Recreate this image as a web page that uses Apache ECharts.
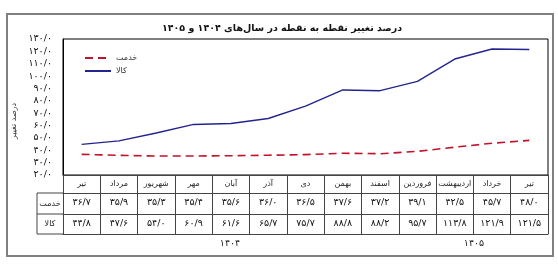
<!DOCTYPE html>
<html>
<head>
<meta charset="utf-8">
<script src="https://cdn.jsdelivr.net/npm/echarts@6/dist/echarts.min.js"></script>
<style>
  html, body { margin: 0; padding: 0; background: #fff; }
  #chart { width: 558px; height: 270px; }
</style>
</head>
<body>
<div id="chart"></div>
<script>
// داده‌ها
var months = ['تیر', 'مرداد', 'شهریور', 'مهر', 'آبان', 'آذر', 'دی', 'بهمن', 'اسفند', 'فروردین', 'اردیبهشت', 'خرداد', 'تیر'];
var services = [36.7, 35.9, 35.3, 35.4, 35.6, 36.0, 36.5, 37.6, 37.2, 39.1, 42.5, 45.7, 48.0];
var goods = [44.8, 47.6, 54.0, 60.9, 61.6, 65.7, 75.7, 88.8, 88.2, 95.7, 113.8, 121.9, 121.5];
var yearLabels = ['۱۴۰۴', '۱۴۰۵'];

var FONT = '"DejaVu Sans", sans-serif';

function fa(s) {
  return String(s).replace(/\d/g, function (d) { return '۰۱۲۳۴۵۶۷۸۹'[d]; });
}
function num(v) {
  return fa(v.toFixed(1).replace('.', '/'));
}

var chart = echarts.init(document.getElementById('chart'));

var tableLine = { color: '#444', width: 1 };

var option = {
  animation: false,
  grid: {
    left: 63, right: 10, top: 39, bottom: 95,
    show: true, borderColor: '#000', borderWidth: 1
  },
  legend: {
    orient: 'vertical',
    left: 79, top: 49,
    itemWidth: 26, itemHeight: 10, itemGap: 5,
    itemStyle: { color: 'rgba(0,0,0,0)', borderWidth: 0 },
    textStyle: { fontFamily: FONT, fontSize: 8, color: '#333' },
    data: ['خدمت', 'کالا']
  },
  xAxis: [
    {
      type: 'category', data: months, position: 'bottom', offset: 0,
      axisLine: { lineStyle: tableLine },
      axisTick: { show: true, length: 59, lineStyle: tableLine },
      axisLabel: { margin: 5, fontFamily: FONT, fontSize: 8, color: '#222', interval: 0 }
    },
    {
      type: 'category', data: services.map(num), position: 'bottom', offset: 18,
      axisLine: { lineStyle: tableLine },
      axisTick: { show: false },
      axisLabel: { margin: 5, fontFamily: FONT, fontSize: 9.5, color: '#111', interval: 0 }
    },
    {
      type: 'category', data: goods.map(num), position: 'bottom', offset: 39,
      axisLine: { lineStyle: tableLine },
      axisTick: { show: false },
      axisLabel: { margin: 5, fontFamily: FONT, fontSize: 9.5, color: '#111', interval: 0 }
    },
    {
      type: 'category', data: months, position: 'bottom', offset: 59,
      axisLine: { lineStyle: tableLine },
      axisTick: { show: false },
      axisLabel: { show: false }
    }
  ],
  yAxis: {
    type: 'value', min: 20, max: 130, interval: 10,
    name: 'درصد تغییر', nameLocation: 'middle', nameGap: 34, nameRotate: 90,
    nameTextStyle: { fontFamily: FONT, fontSize: 8, color: '#333', padding: [0, 28, 0, 0] },
    axisLine: { show: true, lineStyle: { color: '#000' } },
    axisTick: { show: false },
    splitLine: { show: false },
    axisLabel: {
      margin: 11, fontFamily: FONT, fontSize: 9.5, color: '#111',
      formatter: function (v) { return num(v); }
    }
  },
  series: [
    {
      name: 'خدمت', type: 'line', data: services, showSymbol: false, symbol: 'none',
      lineStyle: { color: '#c0142a', width: 1.6, type: [8, 5] },
      itemStyle: { color: '#c0142a' }
    },
    {
      name: 'کالا', type: 'line', data: goods, showSymbol: false, symbol: 'none',
      lineStyle: { color: '#24248f', width: 1.4 },
      itemStyle: { color: '#24248f' }
    }
  ],
  graphic: [
    { type: 'rect', shape: { x: 7, y: 14, width: 546, height: 242 },
      style: { fill: 'none', stroke: '#808080', lineWidth: 2 } },
    { type: 'text', x: 282, y: 29,
      style: { text: 'درصد تغییر نقطه به نقطه در سال‌های ۱۴۰۴ و ۱۴۰۵', fontFamily: FONT,
        fontSize: 9.5, fontWeight: 'bold', fill: '#111', align: 'center', verticalAlign: 'middle' } },
    // ستون عنوان ردیف‌ها
    { type: 'line', shape: { x1: 37, y1: 193, x2: 63, y2: 193 }, style: { stroke: '#444', lineWidth: 1 } },
    { type: 'line', shape: { x1: 37, y1: 214, x2: 63, y2: 214 }, style: { stroke: '#444', lineWidth: 1 } },
    { type: 'line', shape: { x1: 37, y1: 234, x2: 63, y2: 234 }, style: { stroke: '#444', lineWidth: 1 } },
    { type: 'line', shape: { x1: 37, y1: 193, x2: 37, y2: 234 }, style: { stroke: '#444', lineWidth: 1 } },
    { type: 'text', x: 50, y: 203.5,
      style: { text: 'خدمت', fontFamily: FONT, fontSize: 8, fill: '#222', align: 'center', verticalAlign: 'middle' } },
    { type: 'text', x: 50, y: 224,
      style: { text: 'کالا', fontFamily: FONT, fontSize: 8, fill: '#222', align: 'center', verticalAlign: 'middle' } },
    { type: 'text', x: 230, y: 244,
      style: { text: yearLabels[0], fontFamily: FONT, fontSize: 9.5, fill: '#222', align: 'center', verticalAlign: 'middle' } },
    { type: 'text', x: 474, y: 244,
      style: { text: yearLabels[1], fontFamily: FONT, fontSize: 9.5, fill: '#222', align: 'center', verticalAlign: 'middle' } }
  ]
};

chart.setOption(option);
</script>
</body>
</html>
